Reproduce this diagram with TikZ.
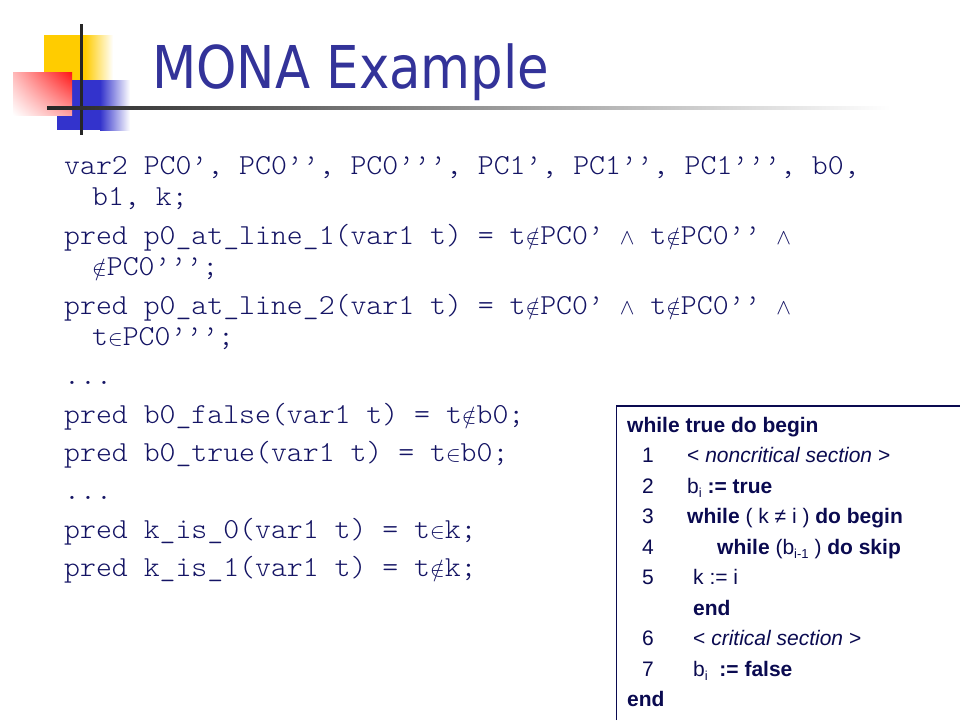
\documentclass[tikz,border=0pt]{standalone}
\usepackage{fontspec}
\usepackage{graphicx}
\setmainfont{Liberation Sans}
\setmonofont[FakeStretch=1.045]{Latin Modern Mono Light}
\newfontfamily\titlefont{DejaVu Sans}
\usetikzlibrary{positioning,shadings}
\definecolor{titleblue}{RGB}{51,51,153}
\definecolor{codeblue}{RGB}{20,20,100}
\definecolor{boxblue}{RGB}{10,10,80}
\definecolor{decoyellow}{RGB}{255,204,0}
\definecolor{decored}{RGB}{255,20,20}
\definecolor{decoblue}{RGB}{51,51,204}
\newcommand{\symnotin}{{\fontsize{10}{10}\selectfont\scalebox{2.2}{$\notin$}}}
\newcommand{\symin}{{\fontsize{10}{10}\selectfont\scalebox{2.2}{$\in$}}}
\newcommand{\symand}{{\fontsize{10}{10}\selectfont\scalebox{2.2}{$\wedge$}}}
\newcommand{\bsub}[1]{\raisebox{-4pt}{\fontsize{13}{13}\selectfont #1}}

\begin{document}
\begin{tikzpicture}[x=1pt, y=-1pt,
	cstyle/.style={anchor=base west, inner sep=0pt, text=codeblue,
	font=\ttfamily\fontsize{29}{32}\selectfont},
	bstyle/.style={anchor=base west, inner sep=0pt, text=boxblue,
	font=\fontsize{21}{24}\selectfont}
	]
	\useasboundingbox (0,0) rectangle (960,720);
	\fill[white] (0,0) rectangle (960,720);
	% squares in the corner
	\fill[decoyellow] (44,35) rectangle (85,80);
	\shade[left color=decoyellow, right color=white] (85,35) rectangle (113,80);
	\fill[decoblue] (57,80) rectangle (100,130);
	\shade[left color=decoblue, right color=white] (100,80) rectangle (130,130);
	\shade[upper right=decored, upper left=decored!30!white,
	lower right=decored!40!white, lower left=white] (13,72) rectangle (72,115);
	\draw[line width=3pt, black!85] (81,24) -- (81,135);
	\shade[left color=black!85, right color=white] (47,106.5) rectangle (890,109.5);
	\draw(152,88)node[anchor=base west, inner sep=0pt, text=titleblue,
	font=\titlefont\fontsize{59}{59}\selectfont] (title)
	{\scalebox{0.87}[1]{MONA Example}};
	% the MONA code
	\draw(64,174)node[cstyle] (var) {var2 PC0’, PC0’’, PC0’’’, PC1’, PC1’’, PC1’’’, b0,};
	\draw(92,205)node[cstyle] (varb) {b1, k;};
	\draw(64,244)node[cstyle] (lineone)
	{pred p0\_at\_line\_1(var1 t) = t\symnotin PC0’ \symand\ t\symnotin PC0’’ \symand};
	\draw(92,275)node[cstyle] (lineoneb) {\symnotin PC0’’’;};
	\draw(64,314)node[cstyle] (linetwo)
	{pred p0\_at\_line\_2(var1 t) = t\symnotin PC0’ \symand\ t\symnotin PC0’’ \symand};
	\draw(92,345)node[cstyle] (linetwob) {t\symin PC0’’’;};
	\draw(64,384)node[cstyle] (dotsa) {...};
	\draw(64,423)node[cstyle] (bfalse) {pred b0\_false(var1 t) = t\symnotin b0;};
	\draw(64,461)node[cstyle] (btrue) {pred b0\_true(var1 t) = t\symin b0;};
	\draw(64,499)node[cstyle] (dotsb) {...};
	\draw(64,538)node[cstyle] (kzero) {pred k\_is\_0(var1 t) = t\symin k;};
	\draw(64,576)node[cstyle] (kone) {pred k\_is\_1(var1 t) = t\symnotin k;};
	% the algorithm box
	\draw[boxblue, line width=1.2pt] (616.5,720) -- (616.5,406) -- (960,406);
	\draw(627,432)node[bstyle] (top) {\textbf{while true do begin}};
	\draw(642,462.5)node[bstyle] (n1) {1};
	\draw(687,462.5)node[bstyle] (s1) {< \textit{noncritical section} >};
	\draw(642,493)node[bstyle] (n2) {2};
	\draw(687,493)node[bstyle] (s2) {b\bsub{i} \textbf{:= true}};
	\draw(642,523.5)node[bstyle] (n3) {3};
	\draw(687,523.5)node[bstyle] (s3) {\textbf{while} ( k ≠ i ) \textbf{do begin}};
	\draw(642,554)node[bstyle] (n4) {4};
	\draw(717,554)node[bstyle] (s4) {\textbf{while} (b\bsub{i-1} ) \textbf{do skip}};
	\draw(642,584.5)node[bstyle] (n5) {5};
	\draw(693,584.5)node[bstyle] (s5) {k := i};
	\draw(693,615)node[bstyle] (inend) {\textbf{end}};
	\draw(642,645.5)node[bstyle] (n6) {6};
	\draw(693,645.5)node[bstyle] (s6) {< \textit{critical section} >};
	\draw(642,676)node[bstyle] (n7) {7};
	\draw(693,676)node[bstyle] (s7) {b\bsub{i}\ \ \textbf{:= false}};
	\draw(627,706.5)node[bstyle] (bottom) {\textbf{end}};
\end{tikzpicture}
\end{document}
